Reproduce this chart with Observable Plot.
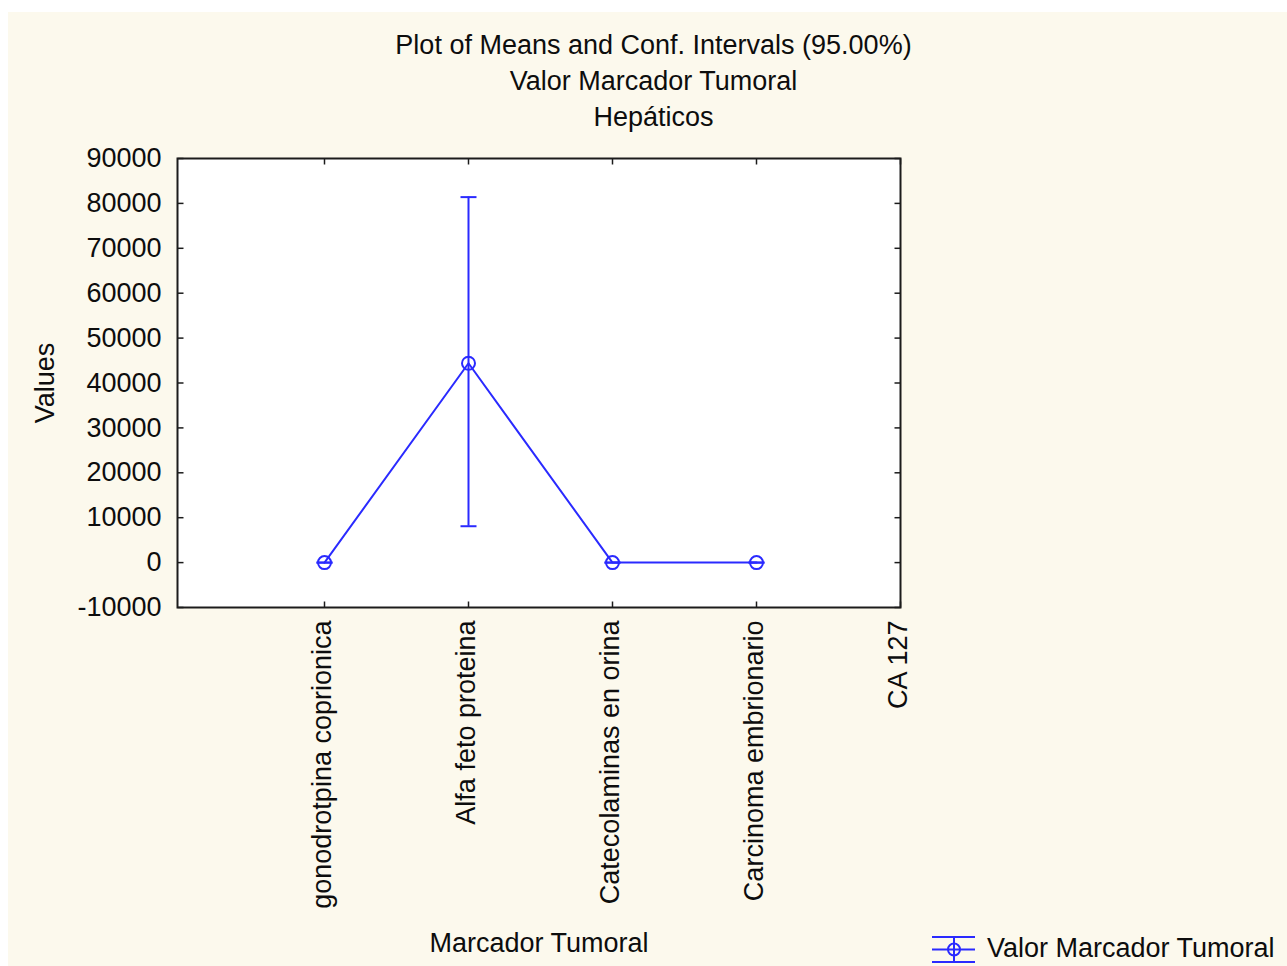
<!DOCTYPE html>
<html>
<head>
<meta charset="utf-8">
<script src="https://cdn.jsdelivr.net/npm/d3@7"></script>
<script src="https://cdn.jsdelivr.net/npm/@observablehq/plot@0.6"></script>
<style>
  html, body { margin: 0; padding: 0; background: #ffffff; }
  #page {
    position: absolute; left: 8px; top: 12px; width: 1279px; height: 954px;
    background: #fcf9ed; overflow: hidden;
    font-family: "Liberation Sans", Arial, Helvetica, sans-serif; color: #0d0d0d;
  }
  #titles {
    position: absolute; left: -8px; top: 15px; width: 1307px;
    text-align: center; font-size: 27px; line-height: 36px;
  }
  #chart { position: absolute; left: -8px; top: 118px; }
  #legend {
    position: absolute; left: 924px; top: 921px; display: flex; align-items: center;
    font-size: 27px; white-space: nowrap;
  }
  #legend svg { margin-right: 11px; }
</style>
</head>
<body>
<div id="page">
  <div id="titles">
    <div>Plot of Means and Conf. Intervals (95.00%)</div>
    <div>Valor Marcador Tumoral</div>
    <div>Hepáticos</div>
  </div>
  <div id="chart"></div>
  <div id="legend">
    <svg width="44" height="30" viewBox="0 0 44 30">
      <g stroke="#2a2aff" stroke-width="2" fill="none">
        <line x1="0" x2="43" y1="3" y2="3"></line>
        <line x1="0" x2="43" y1="15.5" y2="15.5"></line>
        <line x1="0" x2="43" y1="28" y2="28"></line>
        <line x1="22" x2="22" y1="3" y2="28"></line>
        <circle cx="22" cy="15.5" r="6"></circle>
      </g>
    </svg>
    <span>Valor Marcador Tumoral</span>
  </div>
</div>
<script>
// Tumour marker categories (x axis), including one with no observations
const categories = [
  "gonodrotpina coprionica",
  "Alfa feto proteina",
  "Catecolaminas en orina",
  "Carcinoma embrionario",
  "CA 127"
];
// Means and 95% confidence limits per marker
const means   = [0, 44400, 0, 0, null];
const ciLower = [0, 8100, 0, 0, null];
const ciUpper = [0, 81400, 0, 0, null];
// Y axis ticks
const yTicks = [-10000, 0, 10000, 20000, 30000, 40000, 50000, 60000, 70000, 80000, 90000];

const rows = categories.map((c, i) => ({cat: c, mean: means[i], lo: ciLower[i], hi: ciUpper[i]}));
const withData = rows.filter(d => d.mean != null);

const blue = "#2a2aff";
const axisInk = "#1c1c1c";
const ink = "#0d0d0d";

// Small path symbols: error-bar caps and inward frame ticks
const cap = {draw(ctx) { ctx.moveTo(-8, 0); ctx.lineTo(8, 0); }};
const tickRight = {draw(ctx) { ctx.moveTo(0, 0); ctx.lineTo(6, 0); }};
const tickLeft = {draw(ctx) { ctx.moveTo(0, 0); ctx.lineTo(-6, 0); }};
const tickDown = {draw(ctx) { ctx.moveTo(0, 0); ctx.lineTo(0, 6); }};
const tickUp = {draw(ctx) { ctx.moveTo(0, 0); ctx.lineTo(0, -6); }};

const chart = Plot.plot({
  width: 1287,
  height: 848,
  marginLeft: 177,
  marginRight: 387,
  marginTop: 28,
  marginBottom: 371,
  style: {
    fontFamily: '"Liberation Sans", Arial, Helvetica, sans-serif',
    fontSize: "27px",
    color: ink,
    background: "transparent",
    overflow: "visible"
  },
  x: {type: "point", domain: categories, padding: 0.5, align: 1},
  y: {domain: [-10000, 90000]},
  marks: [
    Plot.frame({fill: "white", stroke: null}),
    Plot.axisY(yTicks, {anchor: "left", tickSize: 0, tickPadding: 16, label: null, tickFormat: d => String(d)}),
    Plot.axisX(categories, {anchor: "bottom", tickSize: 0, tickPadding: 13, tickRotate: -90, label: null, dx: -2}),
    // inward ticks on all four sides of the frame
    Plot.dot(yTicks, {y: d => d, frameAnchor: "left", symbol: tickRight, stroke: axisInk, strokeWidth: 1.5}),
    Plot.dot(yTicks, {y: d => d, frameAnchor: "right", symbol: tickLeft, stroke: axisInk, strokeWidth: 1.5}),
    Plot.dot(categories, {x: d => d, frameAnchor: "top", symbol: tickDown, stroke: axisInk, strokeWidth: 1.5}),
    Plot.dot(categories, {x: d => d, frameAnchor: "bottom", symbol: tickUp, stroke: axisInk, strokeWidth: 1.5}),
    // confidence intervals
    Plot.ruleX(withData, {x: "cat", y1: "lo", y2: "hi", stroke: blue, strokeWidth: 2}),
    Plot.dot(withData, {x: "cat", y: "lo", symbol: cap, stroke: blue, strokeWidth: 2}),
    Plot.dot(withData, {x: "cat", y: "hi", symbol: cap, stroke: blue, strokeWidth: 2}),
    // means
    Plot.line(withData, {x: "cat", y: "mean", stroke: blue, strokeWidth: 2}),
    Plot.dot(withData, {x: "cat", y: "mean", r: 6.5, stroke: blue, strokeWidth: 2, fill: "none"}),
    Plot.frame({stroke: axisInk, strokeWidth: 2}),
    // axis titles
    Plot.text(["Values"], {frameAnchor: "left", rotate: -90, textAnchor: "middle", dx: -132, fill: ink}),
    Plot.text(["Marcador Tumoral"], {frameAnchor: "bottom", dy: 344, fill: ink})
  ]
});
document.getElementById("chart").appendChild(chart);
</script>
</body>
</html>
